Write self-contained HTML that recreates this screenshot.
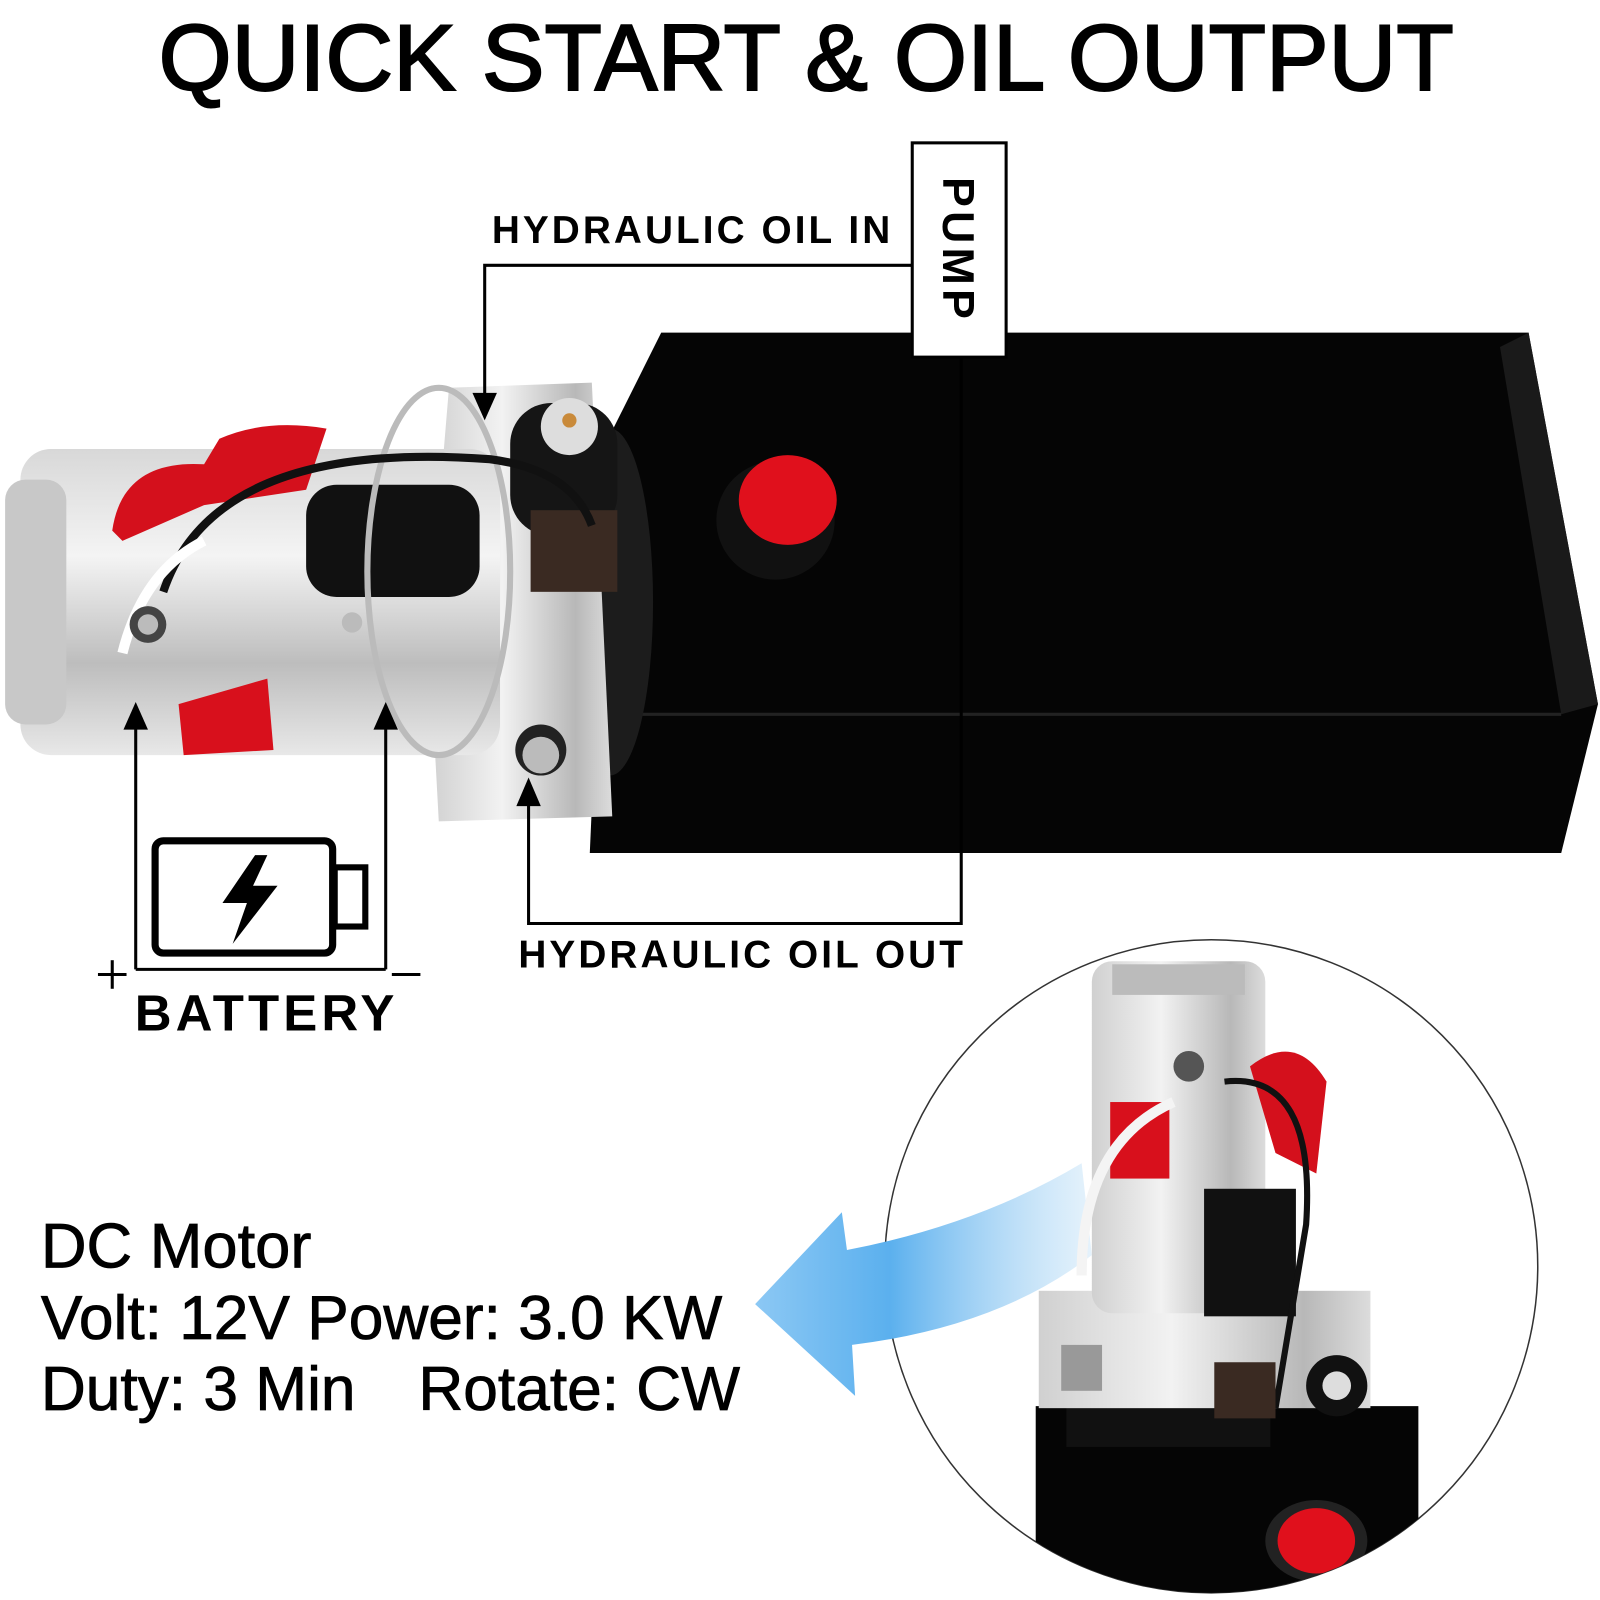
<!DOCTYPE html>
<html><head><meta charset="utf-8"><style>
html,body{margin:0;padding:0;background:#fff;width:1600px;height:1600px;overflow:hidden}
svg{display:block}
text{font-family:"Liberation Sans",sans-serif}
</style></head><body>
<svg width="1600" height="1600" viewBox="0 0 1568 1568" xmlns="http://www.w3.org/2000/svg">
<defs>
<linearGradient id="sil" x1="0" y1="0" x2="0" y2="1">
<stop offset="0" stop-color="#d8d8d8"/><stop offset="0.35" stop-color="#f4f4f4"/><stop offset="0.7" stop-color="#bdbdbd"/><stop offset="1" stop-color="#e8e8e8"/></linearGradient>
<linearGradient id="silv" x1="0" y1="0" x2="1" y2="0">
<stop offset="0" stop-color="#d0d0d0"/><stop offset="0.4" stop-color="#f2f2f2"/><stop offset="0.8" stop-color="#b8b8b8"/><stop offset="1" stop-color="#dcdcdc"/></linearGradient>
<linearGradient id="blue" x1="1" y1="0" x2="0" y2="0">
<stop offset="0" stop-color="#a8d4f4" stop-opacity="0.3"/><stop offset="0.6" stop-color="#5bb0ee"/><stop offset="1" stop-color="#8cc8f4"/></linearGradient>
<clipPath id="cc"><circle cx="1187" cy="1241" r="320"/></clipPath>
</defs>
<text x="790" y="88" text-anchor="middle" font-size="92" fill="#000" stroke="#000" stroke-width="2">QUICK START &amp; OIL OUTPUT</text>

<!-- tank -->
<polygon points="648,326 1498,326 1566,690 1530,836 578,836 596,430" fill="#050505"/>
<polygon points="1498,326 1566,690 1530,700 1470,340" fill="#1a1a1a"/>
<line x1="600" y1="700" x2="1530" y2="700" stroke="#222" stroke-width="3"/>
<circle cx="760" cy="510" r="58" fill="#111"/>
<ellipse cx="772" cy="490" rx="48" ry="44" fill="#e0101c"/>
<ellipse cx="598" cy="590" rx="42" ry="170" fill="#1c1c1c"/>

<!-- pump block -->
<polygon points="440,380 580,375 600,800 430,805 420,620" fill="url(#silv)"/>
<rect x="500" y="395" width="105" height="130" rx="40" fill="#151515"/>
<circle cx="558" cy="418" r="28" fill="#ddd"/>
<circle cx="558" cy="412" r="7" fill="#c98a3a"/>
<rect x="520" y="500" width="85" height="80" fill="#3a2a22"/>
<circle cx="530" cy="735" r="25" fill="#222"/>
<circle cx="530" cy="740" r="18" fill="#bbb"/>
<!-- motor -->
<rect x="20" y="440" width="470" height="300" rx="30" fill="url(#sil)"/>
<rect x="5" y="470" width="60" height="240" rx="20" fill="#c8c8c8"/>
<rect x="300" y="475" width="170" height="110" rx="30" fill="#111"/>
<ellipse cx="430" cy="560" rx="70" ry="180" fill="none" stroke="#bbb" stroke-width="6"/>
<path d="M110 520 Q120 450 200 455 L215 430 Q260 410 320 420 L300 480 L200 495 L120 530 Z" fill="#d4101c"/>
<path d="M160 580 Q210 430 480 450 Q560 460 580 515" stroke="#111" stroke-width="8" fill="none"/>
<path d="M120 640 Q140 560 200 530" stroke="#fff" stroke-width="10" fill="none"/>
<circle cx="145" cy="612" r="18" fill="#444"/>
<circle cx="145" cy="612" r="10" fill="#bbb"/>
<circle cx="345" cy="610" r="10" fill="#bbb"/>
<polygon points="175,690 262,665 268,735 180,740" fill="#d8101c"/>

<!-- connectors -->
<g stroke="#000" stroke-width="3" fill="none">
<polyline points="893,260 475,260 475,390"/>
<polyline points="942,350 942,905 518,905 518,785"/>
<polyline points="133,950 133,710"/>
<polyline points="378,950 378,710"/>
<line x1="133" y1="950" x2="378" y2="950"/>
<line x1="96" y1="955" x2="124" y2="955"/>
<line x1="110" y1="941" x2="110" y2="969"/>
<line x1="384" y1="955" x2="412" y2="955"/>
</g>
<polygon points="463,385 487,385 475,412" fill="#000"/>
<polygon points="506,790 530,790 518,762" fill="#000"/>
<polygon points="121,715 145,715 133,688" fill="#000"/>
<polygon points="366,715 390,715 378,688" fill="#000"/>
<rect x="894" y="140" width="92" height="210" fill="#fff" stroke="#000" stroke-width="3"/>
<text transform="translate(924,245) rotate(90)" text-anchor="middle" font-size="44" font-weight="bold" letter-spacing="4">PUMP</text>
<text x="482" y="238" font-size="38" font-weight="bold" letter-spacing="3">HYDRAULIC OIL IN</text>
<text x="508" y="948" font-size="38" font-weight="bold" letter-spacing="3">HYDRAULIC OIL OUT</text>

<!-- battery -->
<rect x="152" y="824" width="174" height="110" rx="8" fill="none" stroke="#000" stroke-width="7"/>
<rect x="328" y="850" width="30" height="58" fill="none" stroke="#000" stroke-width="6"/>
<polygon points="250,838 218,885 242,885 228,925 272,868 248,868 262,838" fill="#000"/>
<text x="132" y="1010" font-size="50" font-weight="bold" letter-spacing="4">BATTERY</text>

<!-- DC text -->
<text x="40" y="1242" font-size="62" stroke="#000" stroke-width="0.8">DC Motor</text>
<text x="40" y="1312" font-size="61" stroke="#000" stroke-width="0.8">Volt: 12V Power: 3.0 KW</text>
<text x="40" y="1382" font-size="61" stroke="#000" stroke-width="0.8">Duty: 3 Min<tspan x="410">Rotate: CW</tspan></text>

<!-- circle inset -->
<circle cx="1187" cy="1241" r="320" fill="#fff" stroke="#333" stroke-width="1.5"/>
<path d="M1060 1140 Q960 1200 830 1225 L825 1188 L740 1278 L838 1368 L835 1318 Q980 1300 1070 1230 Z" fill="url(#blue)"/>
<g clip-path="url(#cc)">
<rect x="1015" y="1378" width="375" height="190" fill="#050505"/>
<rect x="1045" y="1378" width="200" height="40" fill="#111"/>
<ellipse cx="1290" cy="1510" rx="50" ry="40" fill="#222"/>
<ellipse cx="1290" cy="1510" rx="38" ry="32" fill="#e0101c"/>
<rect x="1018" y="1265" width="325" height="115" fill="url(#silv)"/>
<rect x="1070" y="942" width="170" height="345" rx="20" fill="url(#silv)"/>
<rect x="1090" y="945" width="130" height="30" fill="#bbb"/>
<rect x="1088" y="1080" width="58" height="75" fill="#d8101c"/>
<rect x="1180" y="1165" width="90" height="125" fill="#111"/>
<path d="M1225 1045 Q1270 1010 1300 1060 L1290 1150 L1250 1130 Z" fill="#d4101c"/>
<path d="M1200 1060 Q1290 1050 1280 1200 L1250 1380" stroke="#111" stroke-width="6" fill="none"/>
<path d="M1150 1080 Q1060 1120 1060 1250" stroke="#f4f4f4" stroke-width="10" fill="none"/>
<circle cx="1165" cy="1045" r="15" fill="#555"/>
<circle cx="1310" cy="1358" r="30" fill="#111"/>
<circle cx="1310" cy="1358" r="14" fill="#ddd"/>
<rect x="1190" y="1335" width="60" height="55" fill="#3a2a22"/>
<rect x="1040" y="1318" width="40" height="45" fill="#999"/>
</g>
</svg>
</body></html>
